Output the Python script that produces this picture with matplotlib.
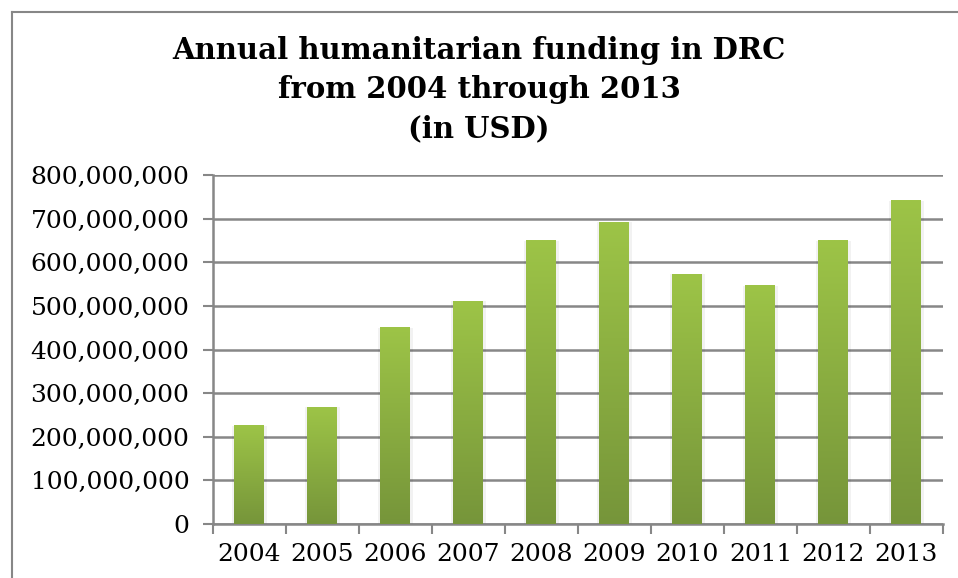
import numpy as np
import matplotlib.pyplot as plt
from matplotlib.colors import LinearSegmentedColormap
from matplotlib.lines import Line2D
from matplotlib.ticker import FuncFormatter

years = ['2004', '2005', '2006', '2007', '2008', '2009', '2010', '2011', '2012', '2013']
funding = [225e6, 268e6, 450e6, 511e6, 649e6, 692e6, 573e6, 546e6, 649e6, 741e6]
yticks = [0, 100e6, 200e6, 300e6, 400e6, 500e6, 600e6, 700e6, 800e6]

plt.rcParams['font.family'] = ['DejaVu Serif']

fig = plt.figure(figsize=(9.58, 5.78), dpi=100)
ax = fig.add_axes([0.2223, 0.0934, 0.762, 0.6038])

gray = '#878787'
x = np.arange(len(years))
bars = ax.bar(x, funding, width=0.41, color='#8aad41', zorder=3)

# vertical green gradient in each bar
cmap = LinearSegmentedColormap.from_list('grn', ['#76953a', '#9dc447'])
grad = np.linspace(0, 1, 256).reshape(-1, 1)
for b in bars:
    x0, w, h = b.get_x(), b.get_width(), b.get_height()
    ax.imshow(grad, cmap=cmap, origin='lower', aspect='auto',
              extent=[x0, x0 + w, 0, h], zorder=4)
    # soft shadow
    ax.bar(x0 + w / 2, h, width=w + 0.06, color='#000000', alpha=0.05, zorder=2)

ax.set_xlim(-0.5, 9.5)
ax.set_ylim(0, 800e6)
ax.set_yticks(yticks)
ax.yaxis.set_major_formatter(FuncFormatter(lambda v, p: '{:,.0f}'.format(v)))
ax.set_xticks(x)
ax.set_xticklabels(years)
ax.set_xticks(np.arange(-0.5, 10, 1), minor=True)

ax.tick_params(axis='y', length=7, width=1.5, color=gray, labelsize=18, pad=10)
ax.tick_params(axis='x', which='major', length=0, labelsize=18, pad=14)
ax.tick_params(axis='x', which='minor', length=7, width=1.5, color=gray)

ax.grid(axis='y', color=gray, linewidth=1.8, zorder=1)
ax.set_axisbelow(True)
for s in ['top', 'right']:
    ax.spines[s].set_visible(False)
for s in ['left', 'bottom']:
    ax.spines[s].set_color(gray)
    ax.spines[s].set_linewidth(1.8)

fig.text(0.5, 0.845, 'Annual humanitarian funding in DRC\nfrom 2004 through 2013\n(in USD)',
         ha='center', va='center', fontsize=21, fontweight='bold', linespacing=1.45)

# outer chart frame
fig.add_artist(Line2D([12 / 958, 1], [1 - 12 / 578, 1 - 12 / 578], color=gray, linewidth=1.5))
fig.add_artist(Line2D([12 / 958, 12 / 958], [0, 1 - 12 / 578], color=gray, linewidth=1.5))

fig.savefig('out.png', dpi=100)
